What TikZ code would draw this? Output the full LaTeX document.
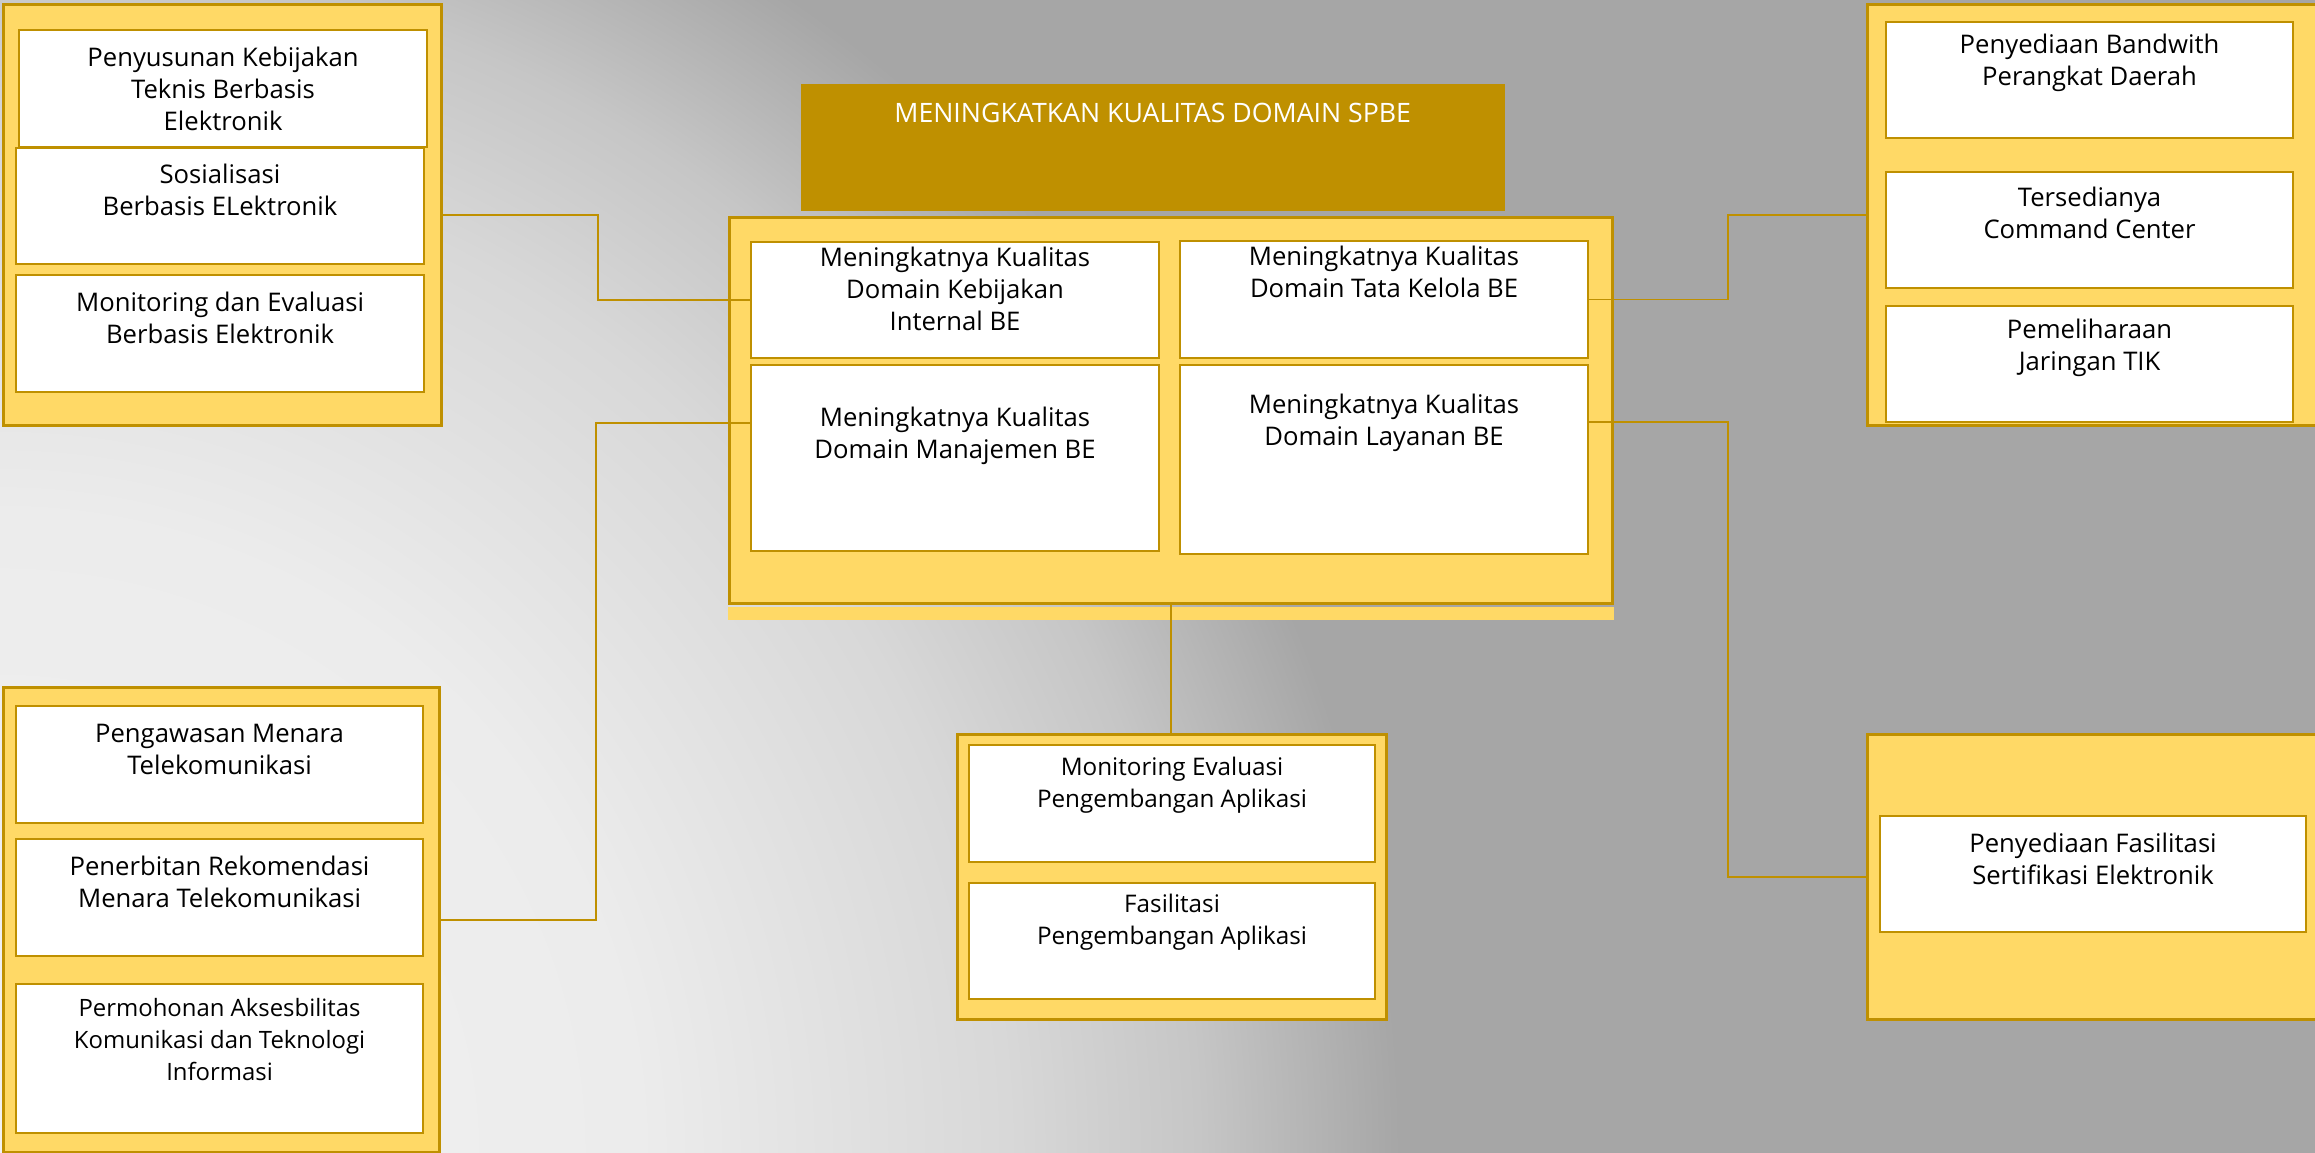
\documentclass[tikz,border=0pt]{standalone}
\usepackage{fontspec}
\setmainfont{Open Sans}
\definecolor{goldline}{HTML}{BF9000}
\definecolor{goldfill}{HTML}{FFD966}
\definecolor{bgone}{HTML}{F2F2F2}
\definecolor{bgtwo}{HTML}{ECECEC}
\definecolor{bgthree}{HTML}{D8D8D8}
\definecolor{bgfour}{HTML}{C6C6C6}
\definecolor{bggray}{HTML}{A6A6A6}
\pgfdeclareradialshading{bgshade}{\pgfpoint{0bp}{0bp}}{color(0bp)=(bgone); color(11.4bp)=(bgtwo); color(18bp)=(bgthree); color(21.4bp)=(bgfour); color(25bp)=(bggray); color(50bp)=(bggray)}
\tikzstyle{group} = [rectangle, anchor=north west, inner sep=0pt, draw=goldline, fill=goldfill, line width=0.9pt]
\tikzstyle{head} = [rectangle, anchor=north west, inner sep=0pt, fill=goldline, minimum width=7.04cm, minimum height=1.27cm]
\tikzstyle{item} = [rectangle, anchor=north west, inner sep=0pt, draw=goldline, fill=white, line width=0.6pt, minimum width=4.08cm, minimum height=1.17cm]
\tikzstyle{txt} = [align=center, inner sep=0pt, font=\fontsize{7.3}{9.1}\selectfont]
\tikzstyle{link} = [draw=goldline, line width=0.45pt]

\begin{document}
\begin{tikzpicture}
    \useasboundingbox (0,0) rectangle (23.15,-11.53);
    \begin{scope}
        \clip (0,0) rectangle (23.15,-11.53);
        \fill [bggray] (0,0) rectangle (23.15,-11.53);
        \shade [shading=bgshade] (-14,-25.53) rectangle (14,2.47);
    \end{scope}

    % kotak kelompok
    \node [group, minimum width=4.38cm, minimum height=4.21cm] at (0.02,-0.03) (left1) {};
    \node [group, minimum width=4.36cm, minimum height=4.65cm] at (0.02,-6.86) (left2) {};
    \node [group, minimum width=8.83cm, minimum height=3.86cm] at (7.28,-2.16) (center) {};
    \fill [goldfill] ([yshift=-0.45pt]center.south west) rectangle ([yshift=-1.5mm]center.south east);
    \node [group, minimum width=4.55cm, minimum height=4.21cm] at (18.66,-0.03) (right1) {};
    \node [group, minimum width=4.29cm, minimum height=2.85cm] at (9.56,-7.33) (bottom) {};
    \node [group, minimum width=4.55cm, minimum height=2.85cm] at (18.66,-7.33) (right2) {};
    \node [head] at (8.00,-0.83) (title) {};
    \node [txt, text=white, font=\fontsize{7.6}{9.1}\selectfont] at ([yshift=-3.0mm]title.north) (title-t) {MENINGKATKAN KUALITAS DOMAIN SPBE};

    % kiri atas
    \node [item] at (0.18,-0.29) (penyusunan) {};
    \node [txt] at ([yshift=-6.0mm]penyusunan.north) (penyusunan-t) {Penyusunan Kebijakan\\Teknis Berbasis\\Elektronik};
    \node [item, minimum height=1.16cm] at (0.15,-1.47) (sosialisasi) {};
    \node [txt] at ([yshift=-4.3mm]sosialisasi.north) (sosialisasi-t) {Sosialisasi\\Berbasis ELektronik};
    \node [item] at (0.15,-2.74) (monev) {};
    \node [txt] at ([yshift=-4.4mm]monev.north) (monev-t) {Monitoring dan Evaluasi\\Berbasis Elektronik};

    % tengah
    \node [item, minimum height=1.16cm] at (7.50,-2.41) (kebijakan) {};
    \node [txt] at ([yshift=-4.8mm]kebijakan.north) (kebijakan-t) {Meningkatnya Kualitas\\Domain Kebijakan\\Internal BE};
    \node [item] at (11.79,-2.40) (tatakelola) {};
    \node [txt] at ([yshift=-3.2mm]tatakelola.north) (tatakelola-t) {Meningkatnya Kualitas\\Domain Tata Kelola BE};
    \node [item, minimum height=1.86cm] at (7.50,-3.64) (manajemen) {};
    \node [txt] at ([yshift=-7.2mm]manajemen.north) (manajemen-t) {Meningkatnya Kualitas\\Domain Manajemen BE};
    \node [item, minimum height=1.89cm] at (11.79,-3.64) (layanan) {};
    \node [txt] at ([yshift=-5.9mm]layanan.north) (layanan-t) {Meningkatnya Kualitas\\Domain Layanan BE};

    % kanan atas
    \node [item, minimum width=4.07cm, minimum height=1.16cm] at (18.85,-0.21) (bandwith) {};
    \node [txt] at ([yshift=-4.2mm]bandwith.north) (bandwith-t) {Penyediaan Bandwith\\Perangkat Daerah};
    \node [item, minimum width=4.07cm, minimum height=1.16cm] at (18.85,-1.71) (command) {};
    \node [txt] at ([yshift=-4.2mm]command.north) (command-t) {Tersedianya\\Command Center};
    \node [item, minimum width=4.07cm, minimum height=1.16cm] at (18.85,-3.05) (jaringan) {};
    \node [txt] at ([yshift=-4.3mm]jaringan.north) (jaringan-t) {Pemeliharaan\\Jaringan TIK};

    % kiri bawah
    \node [item, minimum width=4.07cm] at (0.15,-7.05) (pengawasan) {};
    \node [txt] at ([yshift=-4.4mm]pengawasan.north) (pengawasan-t) {Pengawasan Menara\\Telekomunikasi};
    \node [item, minimum width=4.07cm] at (0.15,-8.38) (rekomendasi) {};
    \node [txt] at ([yshift=-4.4mm]rekomendasi.north) (rekomendasi-t) {Penerbitan Rekomendasi\\Menara Telekomunikasi};
    \node [item, minimum width=4.07cm, minimum height=1.49cm] at (0.15,-9.83) (aksesbilitas) {};
    \node [txt, font=\fontsize{6.8}{9.1}\selectfont] at ([yshift=-5.7mm]aksesbilitas.north) (aksesbilitas-t) {Permohonan Aksesbilitas\\Komunikasi dan Teknologi\\Informasi};

    % bawah tengah
    \node [item, minimum width=4.06cm] at (9.68,-7.44) (evaluasi) {};
    \node [txt, font=\fontsize{6.9}{9.1}\selectfont] at ([yshift=-4.1mm]evaluasi.north) (evaluasi-t) {Monitoring Evaluasi\\Pengembangan Aplikasi};
    \node [item, minimum width=4.06cm, minimum height=1.16cm] at (9.68,-8.82) (aplikasi) {};
    \node [txt, font=\fontsize{6.9}{9.1}\selectfont] at ([yshift=-4.0mm]aplikasi.north) (aplikasi-t) {Fasilitasi\\Pengembangan Aplikasi};

    % kanan bawah
    \node [item, minimum width=4.26cm, minimum height=1.16cm] at (18.79,-8.15) (sertifikasi) {};
    \node [txt] at ([yshift=-4.35mm]sertifikasi.north) (sertifikasi-t) {Penyediaan Fasilitasi\\Sertifikasi Elektronik};

    % garis penghubung
    \draw [link] (left1.east) -- ++(1.55,0) |- (kebijakan.west);
    \draw [link] (left2.east) -- ++(1.55,0) |- ([yshift=3.5mm]manajemen.west);
    \draw [link] (tatakelola.east) -- ++(1.39,0) |- (right1.west);
    \draw [link] ([yshift=3.75mm]layanan.east) -- ++(1.39,0) |- (right2.west);
    \draw [link] (center.south) -- (center.south |- bottom.north);
\end{tikzpicture}
\end{document}
